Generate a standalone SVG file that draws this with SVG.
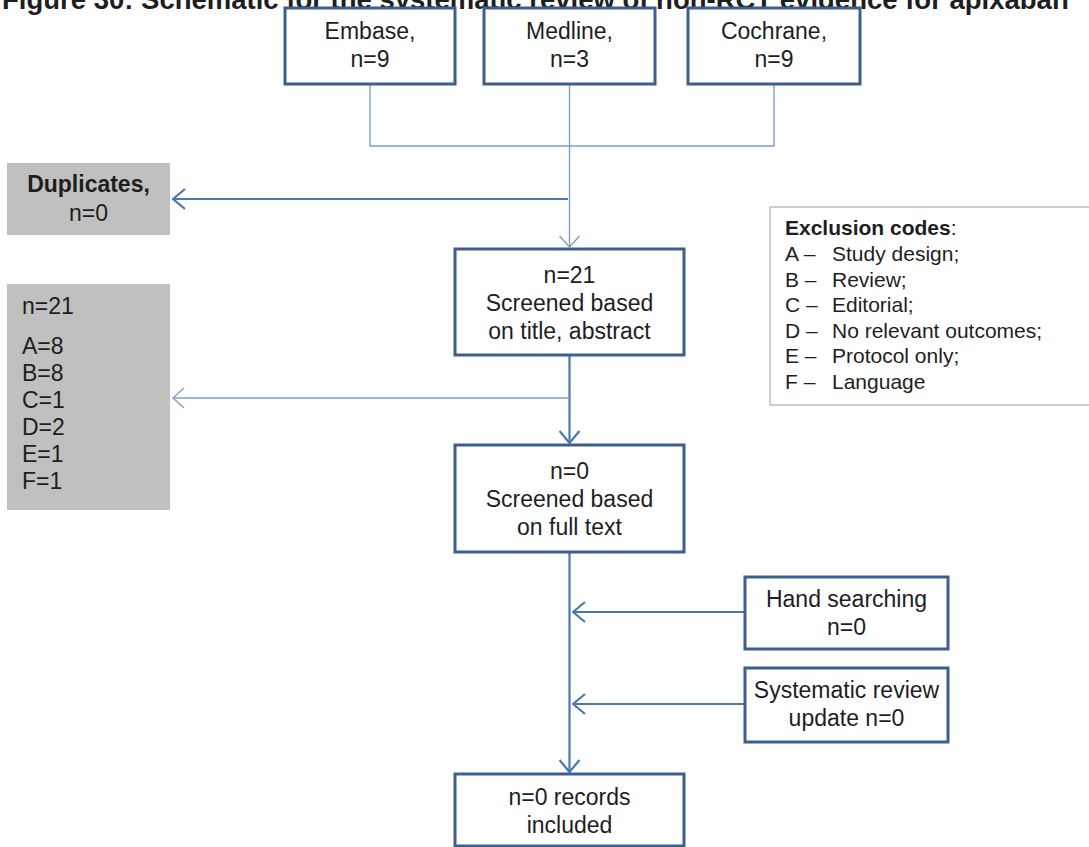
<svg xmlns="http://www.w3.org/2000/svg" width="1089" height="847" viewBox="0 0 1089 847">
<defs>
<style>
text{font-family:"Liberation Sans",Arial,sans-serif;font-size:23px;fill:#1e1e1e}
.c{text-anchor:middle}
.b{font-weight:bold}
.s{font-size:21px}
.box{fill:#fff;stroke:#3d5f8c;stroke-width:3}
.gray{fill:#c0c0c0;stroke:none}
.thin{fill:none;stroke:#7f9ec6;stroke-width:1.4}
.thick{fill:none;stroke:#4a77ad;stroke-width:2.2}
</style>
<marker id="ahThin" viewBox="0 0 13 22" refX="12" refY="11" markerWidth="13" markerHeight="22" markerUnits="userSpaceOnUse" orient="auto">
<path d="M1,1 L12,11 L1,21" fill="none" stroke="#7f9ec6" stroke-width="1.4"/>
</marker>
<marker id="ahThick" viewBox="0 0 14 22" refX="13" refY="11" markerWidth="14" markerHeight="22" markerUnits="userSpaceOnUse" orient="auto">
<path d="M1,1 L13,11 L1,21" fill="none" stroke="#4a77ad" stroke-width="2.2"/>
</marker>
</defs>
<rect width="1089" height="847" fill="#fff"/>
<text x="2" y="9" class="b" style="font-size:27.5px">Figure 30: Schematic for the systematic review of non-RCT evidence for apixaban</text>

<g id="connectors">
<path class="thin" d="M370,85 V146 H774 V85"/>
<path class="thin" d="M569.5,85 V247" marker-end="url(#ahThin)"/>
<path class="thick" d="M568,199 H173" marker-end="url(#ahThick)"/>
<path class="thick" d="M569.5,356 V443" marker-end="url(#ahThick)"/>
<path class="thin" d="M568,398 H173" marker-end="url(#ahThin)"/>
<path class="thick" d="M569.5,553 V772" marker-end="url(#ahThick)"/>
<path class="thick" d="M745,612 H573" marker-end="url(#ahThick)"/>
<path class="thick" d="M745,704 H573" marker-end="url(#ahThick)"/>
</g>

<g id="embase"><rect class="box" x="285" y="8" width="170" height="76"/>
<text class="c" x="370" y="39">Embase,</text><text class="c" x="370" y="67">n=9</text></g>
<g id="medline"><rect class="box" x="484" y="8" width="171" height="76"/>
<text class="c" x="569.5" y="39">Medline,</text><text class="c" x="569.5" y="67">n=3</text></g>
<g id="cochrane"><rect class="box" x="688" y="8" width="172" height="76"/>
<text class="c" x="774" y="39">Cochrane,</text><text class="c" x="774" y="67">n=9</text></g>

<g id="duplicates"><rect class="gray" x="7" y="163" width="163" height="72"/>
<text class="c b" x="88.5" y="192">Duplicates,</text><text class="c" x="88.5" y="221">n=0</text></g>

<g id="exclusions"><rect class="gray" x="7" y="284" width="163" height="226"/>
<text x="22" y="314">n=21</text>
<text x="22" y="354">A=8</text>
<text x="22" y="381">B=8</text>
<text x="22" y="408">C=1</text>
<text x="22" y="435">D=2</text>
<text x="22" y="462">E=1</text>
<text x="22" y="489">F=1</text></g>

<g id="codes"><rect x="770" y="207" width="325" height="198" fill="#fff" stroke="#bfbfbf" stroke-width="1.5"/>
<text class="s" x="785" y="235"><tspan class="b">Exclusion codes</tspan>:</text>
<text class="s" x="785" y="261">A –</text><text class="s" x="832" y="261">Study design;</text>
<text class="s" x="785" y="286.5">B –</text><text class="s" x="832" y="286.5">Review;</text>
<text class="s" x="785" y="312">C –</text><text class="s" x="832" y="312">Editorial;</text>
<text class="s" x="785" y="337.5">D –</text><text class="s" x="832" y="337.5">No relevant outcomes;</text>
<text class="s" x="785" y="363">E –</text><text class="s" x="832" y="363">Protocol only;</text>
<text class="s" x="785" y="388.5">F –</text><text class="s" x="832" y="388.5">Language</text></g>

<g id="screen1"><rect class="box" x="455" y="249" width="229" height="106"/>
<text class="c" x="569.5" y="283">n=21</text><text class="c" x="569.5" y="311">Screened based</text><text class="c" x="569.5" y="339">on title, abstract</text></g>

<g id="screen2"><rect class="box" x="455" y="445" width="229" height="107"/>
<text class="c" x="569.5" y="479">n=0</text><text class="c" x="569.5" y="507">Screened based</text><text class="c" x="569.5" y="535">on full text</text></g>

<g id="hand"><rect class="box" x="745" y="577" width="203" height="72"/>
<text class="c" x="846.5" y="607">Hand searching</text><text class="c" x="846.5" y="635">n=0</text></g>

<g id="update"><rect class="box" x="745" y="668" width="203" height="74"/>
<text class="c" x="846.5" y="698">Systematic review</text><text class="c" x="846.5" y="726">update n=0</text></g>

<g id="included"><rect class="box" x="455" y="774" width="229" height="72"/>
<text class="c" x="569.5" y="805">n=0 records</text><text class="c" x="569.5" y="833">included</text></g>
</svg>
